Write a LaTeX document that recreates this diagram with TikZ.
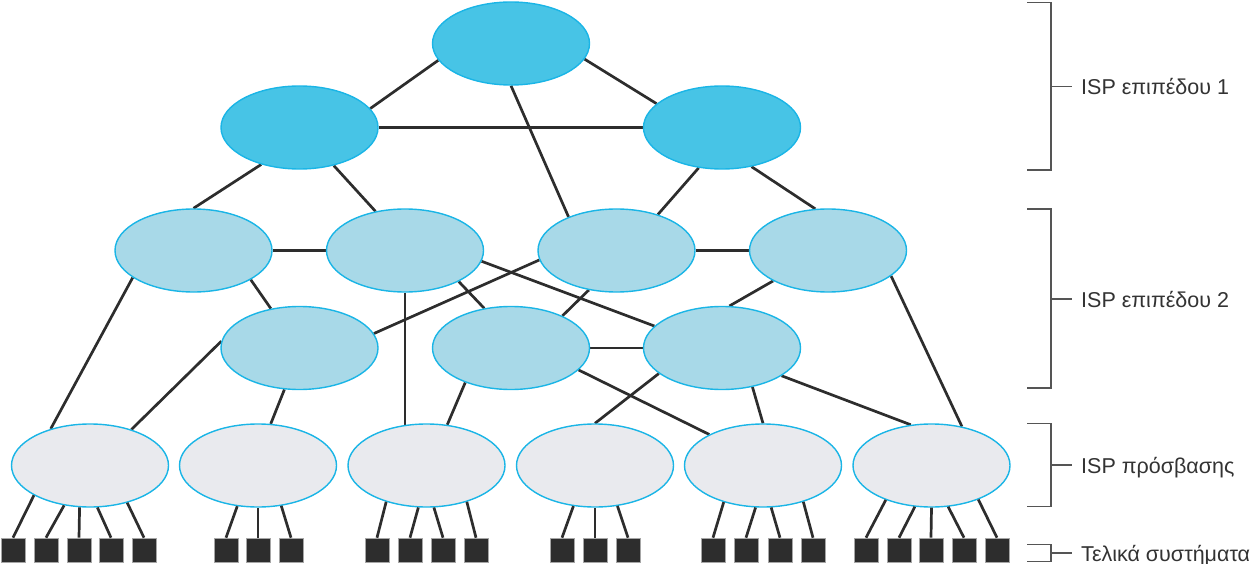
\documentclass[tikz,border=0pt]{standalone}
\usepackage{fontspec}
\setmainfont{Liberation Sans}
\usetikzlibrary{shapes.geometric}
\definecolor{tierone}{HTML}{47C4E6}
\definecolor{tiertwo}{HTML}{A8D9E8}
\definecolor{accgray}{HTML}{E9EAEE}
\definecolor{rim}{HTML}{1AB5E6}
\definecolor{wire}{HTML}{2D2D2D}
\definecolor{bracketc}{HTML}{555555}
\definecolor{labelc}{HTML}{333333}
\pgfdeclarelayer{bg}
\pgfsetlayers{bg,main}
\begin{document}
\begin{tikzpicture}[x=1pt,y=-1pt,
  isp/.style={ellipse, draw=rim, line width=1.4pt, minimum width=157pt, minimum height=83pt, inner sep=0pt},
  tone/.style={isp, fill=tierone},
  ttwo/.style={isp, fill=tiertwo},
  acc/.style={isp, fill=accgray},
  host/.style={rectangle, fill=wire, draw=gray!70, line width=0.6pt, minimum size=24pt, inner sep=0pt},
  link/.style={draw=wire, line width=2.7pt},
  brk/.style={draw=bracketc, line width=1.5pt},
  lbl/.style={anchor=base west, text=labelc, font=\fontsize{21.5}{24}\selectfont, inner sep=0pt}]
\useasboundingbox (0,0) rectangle (1256,564);

% tier 1
\node[tone] (T)  at (511,43.5) {};
\node[tone] (L1) at (299.5,127.5) {};
\node[tone] (R1) at (722,127.5) {};
% tier 2
\node[ttwo] (A) at (193.5,250.5) {};
\node[ttwo] (B) at (405,250.5) {};
\node[ttwo] (C) at (616.5,250.5) {};
\node[ttwo] (D) at (828,250.5) {};
\node[ttwo] (E) at (299.5,348) {};
\node[ttwo] (F) at (511,348) {};
\node[ttwo] (G) at (722,348) {};
% access
\node[acc] (a1) at (90,465.5) {};
\node[acc] (a2) at (258,465.5) {};
\node[acc] (a3) at (426.5,465.5) {};
\node[acc] (a4) at (595,465.5) {};
\node[acc] (a5) at (763,465.5) {};
\node[acc] (a6) at (931.5,465.5) {};

\begin{pgfonlayer}{bg}
\draw[link] (T.-167.5) -- (L1.15.8);
\draw[link] (T.-12.1) -- (R1.160.4);
\draw[link] (T.-90) -- (C.145);
\draw[link] (L1.0) -- (R1.180);
\draw[link] (L1.-136.5) -- (A.90);
\draw[link] (L1.-48.1) -- (B.127.7);
\draw[link] (R1.-120.2) -- (C.41.8);
\draw[link] (R1.-53.3) -- (D.107.1);
\draw[link] (A.0) -- (B.180);
\draw[link] (C.0) -- (D.180);
\draw[link] (A.-156.2) -- (a1.137.6);
\draw[link] (A.-27.8) -- (E.126.6);
\draw[link] (B.-30.3) -- (F.124.9);
\draw[link] (B.-8.1) -- (G.162.8);
\draw[link] (B.south) -- (B.south |- a3.center);
\draw[link] (C.-173.6) -- (E.11.3);
\draw[link] (C.-125) -- (F.32.2);
\draw[link] (D.-151.6) -- (G.80.1);
\draw[link] (D.-22.8) -- (a6.52.6);
\draw[link] (F.0) -- (G.180);
\draw[link] (E.175.4) -- (a1.41.4);
\draw[link] (E.-110.3) -- (a2.73.3);
\draw[link] (F.-143) -- (a3.63.9);
\draw[link] (F.-18.6) -- (a5.150);
\draw[link] (G.-158.8) -- (a4.90);
\draw[link] (G.-52.2) -- (a5.90);
\draw[link] (G.-25.1) -- (a6.117.4);
\end{pgfonlayer}

% end systems
\foreach \x/\a [count=\i] in {13/-152.6,46/-123.7,79/-104.8,111/-80.4,144/-45.4}{
  \node[host] (h1\i) at (\x,550) {};
  \draw[link] (h1\i.north) -- (a1.\a);}
\foreach \x/\a [count=\i] in {226/-117.6,258/-90,291/-60.3}{
  \node[host] (h2\i) at (\x,550) {};
  \draw[link] (h2\i.north) -- (a2.\a);}
\foreach \x/\a [count=\i] in {377/-138.6,410/-101.8,443/-80.8,476/-42.1}{
  \node[host] (h3\i) at (\x,550) {};
  \draw[link] (h3\i.north) -- (a3.\a);}
\foreach \x/\a [count=\i] in {562/-118.7,595/-90,628/-61.3}{
  \node[host] (h4\i) at (\x,550) {};
  \draw[link] (h4\i.north) -- (a4.\a);}
\foreach \x/\a [count=\i] in {713/-137.2,746/-100.5,780/-79.5,813/-42.1}{
  \node[host] (h5\i) at (\x,550) {};
  \draw[link] (h5\i.north) -- (a5.\a);}
\foreach \x/\a [count=\i] in {866/-143.9,899/-112.7,931/-90,964/-68.4,997/-36.1}{
  \node[host] (h6\i) at (\x,550) {};
  \draw[link] (h6\i.north) -- (a6.\a);}

% brackets and labels
\node[lbl] (l1) at (1081,94.7) {ISP επιπέδου 1};
\node[lbl] (l2) at (1081,307) {ISP επιπέδου 2};
\node[lbl] (l3) at (1081,473.5) {ISP πρόσβασης};
\node[lbl] (l4) at (1081,561.5) {Τελικά συστήματα};
\coordinate (k1) at (1051,86.7);
\coordinate (k2) at (1051,299);
\coordinate (k3) at (1051,465);
\coordinate (k4) at (1051,553);
\draw[brk] (1027,2.3) -- (1051,2.3) -- (1051,170) -- (1027,170);
\draw[brk] (k1) -- (1072,86.7);
\draw[brk] (1027,209) -- (1051,209) -- (1051,388) -- (1027,388);
\draw[brk] (k2) -- (1072,299);
\draw[brk] (1027,423.3) -- (1051,423.3) -- (1051,506.7) -- (1027,506.7);
\draw[brk] (k3) -- (1072,465);
\draw[brk] (1027,544.3) -- (1051,544.3) -- (1051,561.7) -- (1027,561.7);
\draw[brk] (k4) -- (1072,553);
\end{tikzpicture}
\end{document}
